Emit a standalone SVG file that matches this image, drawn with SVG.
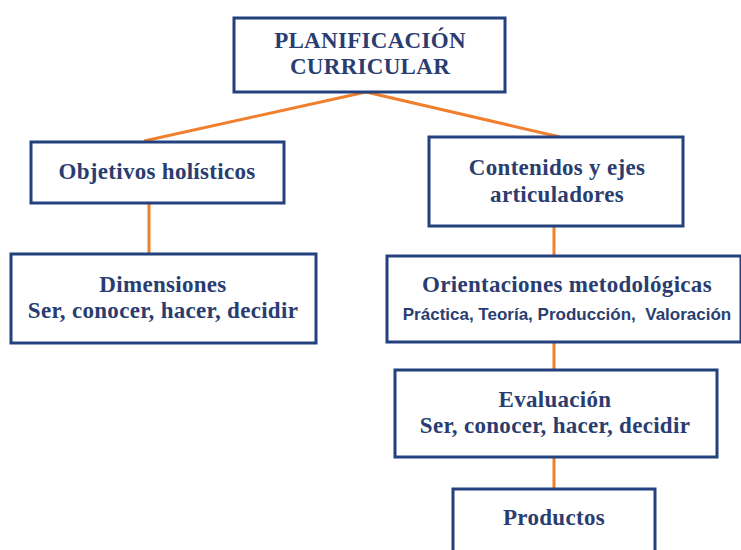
<svg xmlns="http://www.w3.org/2000/svg" width="741" height="550" viewBox="0 0 741 550">
<style>
.box{fill:#fff;stroke:#23417e;stroke-width:3}
.t{font-family:"Liberation Serif","Times New Roman",serif;font-weight:bold;font-size:23px;letter-spacing:0.3px;fill:#2a3d70;text-anchor:middle}
.s{font-family:"Liberation Sans",Arial,sans-serif;font-weight:bold;font-size:17px;fill:#2a3d70;text-anchor:middle}
.c{stroke:#f07f2e;stroke-width:3;fill:none}
</style>
<rect width="741" height="550" fill="#fff"/>
<g id="connectors">
<line class="c" x1="366" y1="92" x2="144" y2="141"/>
<line class="c" x1="366" y1="92" x2="560" y2="137"/>
<line class="c" x1="149" y1="203" x2="149" y2="254"/>
<line class="c" x1="554" y1="226" x2="554" y2="256"/>
<line class="c" x1="554" y1="342" x2="554" y2="370"/>
<line class="c" x1="554" y1="457" x2="554" y2="489"/>
</g>
<g id="planificacion">
<rect class="box" x="234" y="18" width="271" height="74"/>
<text class="t" x="370" y="48">PLANIFICACIÓN</text>
<text class="t" x="370" y="74">CURRICULAR</text>
</g>
<g id="objetivos">
<rect class="box" x="31" y="142" width="253" height="61"/>
<text class="t" x="157" y="179">Objetivos holísticos</text>
</g>
<g id="dimensiones">
<rect class="box" x="11" y="254" width="305" height="89"/>
<text class="t" x="163" y="292">Dimensiones</text>
<text class="t" x="163" y="318">Ser, conocer, hacer, decidir</text>
</g>
<g id="contenidos">
<rect class="box" x="429" y="137" width="254" height="89"/>
<text class="t" x="557" y="175">Contenidos y ejes</text>
<text class="t" x="557" y="202">articuladores</text>
</g>
<g id="orientaciones">
<rect class="box" x="387" y="256" width="354" height="86"/>
<text class="t" x="567" y="292">Orientaciones metodológicas</text>
<text class="s" x="567" y="320" xml:space="preserve">Práctica, Teoría, Producción,  Valoración</text>
</g>
<g id="evaluacion">
<rect class="box" x="395" y="370" width="322" height="87"/>
<text class="t" x="555" y="407">Evaluación</text>
<text class="t" x="555" y="433">Ser, conocer, hacer, decidir</text>
</g>
<g id="productos">
<rect class="box" x="453" y="489" width="202" height="70"/>
<text class="t" x="554" y="525">Productos</text>
</g>
</svg>
